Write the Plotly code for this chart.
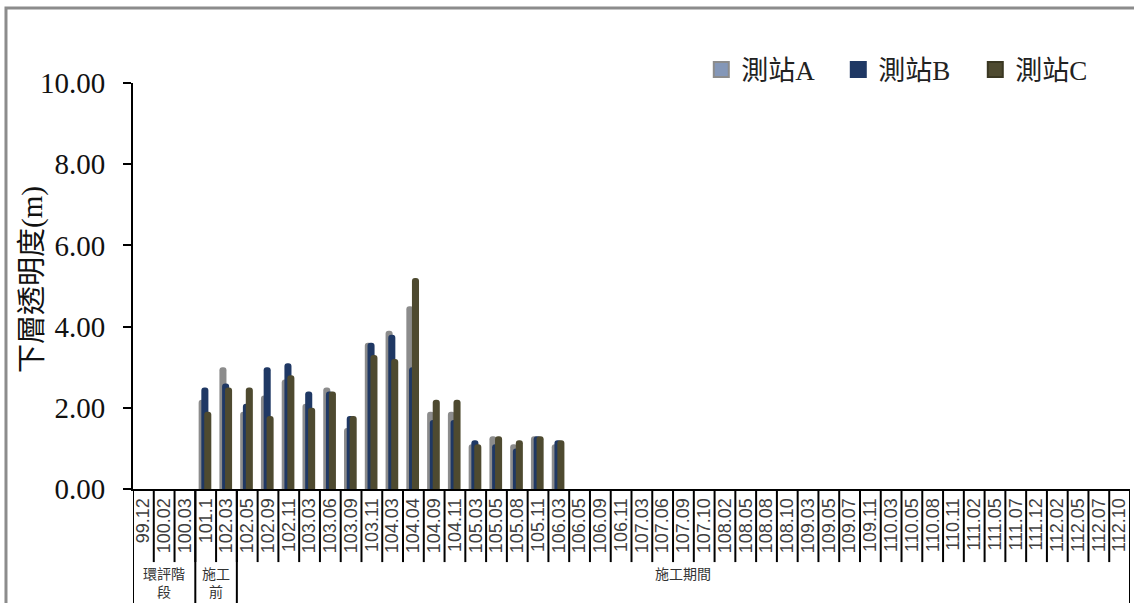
import plotly.graph_objects as go

categories = ["99.12", "100.02", "100.03", "101.1", "102.03", "102.05", "102.09", "102.11",
              "103.03", "103.06", "103.09", "103.11", "104.03", "104.04", "104.09", "104.11",
              "105.03", "105.05", "105.08", "105.11", "106.03", "106.05", "106.09", "106.11",
              "107.03", "107.06", "107.09", "107.10", "108.02", "108.05", "108.08", "108.10",
              "109.03", "109.05", "109.07", "109.11", "110.03", "110.05", "110.08", "110.11",
              "111.02", "111.05", "111.07", "111.12", "112.02", "112.05", "112.07", "112.10"]

n_empty = len(categories) - 21
station_a = [None, None, None, 2.2, 3.0, 1.9, 2.3, 2.7, 2.1, 2.5, 1.5, 3.6, 3.9, 4.5, 1.9, 1.9,
             1.1, 1.3, 1.1, 1.3, 1.1] + [None] * n_empty
station_b = [None, None, None, 2.5, 2.6, 2.1, 3.0, 3.1, 2.4, 2.4, 1.8, 3.6, 3.8, 3.0, 1.7, 1.7,
             1.2, 1.1, 1.0, 1.3, 1.2] + [None] * n_empty
station_c = [None, None, None, 1.9, 2.5, 2.5, 1.8, 2.8, 2.0, 2.4, 1.8, 3.3, 3.2, 5.2, 2.2, 2.2,
             1.1, 1.3, 1.2, 1.3, 1.2] + [None] * n_empty

series_names = ["測站A", "測站B", "測站C"]
series_colors = ["#8c8c8c", "#1f3864", "#4e4a30"]
legend_colors = ["#8497b8", "#1f3864", "#4e4a30"]
legend_lines = ["#8c8c8c", "#1f3864", "#3a3722"]
series_offsets = [-0.34, -0.21, -0.07]

group_labels = ["環評階<br>段", "施工<br>前", "施工期間"]
group_sizes = [3, 2, 43]

y_ticks = [0, 2, 4, 6, 8, 10]
y_title = "下層透明度(m)"

fig = go.Figure()
for name, vals, col, off in zip(series_names, [station_a, station_b, station_c],
                                series_colors, series_offsets):
    fig.add_trace(go.Bar(
        x=categories, y=vals, name=name, showlegend=False,
        marker=dict(color=col, line=dict(width=0), cornerradius="45%"),
        width=0.34, offset=off,
    ))
# legend entries with larger square keys
for name, col, lc in zip(series_names, legend_colors, legend_lines):
    fig.add_trace(go.Scatter(
        x=[categories[0]], y=[None], name=name, mode="markers",
        marker=dict(symbol="square", size=15, color=col, line=dict(color=lc, width=2)),
    ))

# boundaries between categories (tick dividers)
shapes = []
for i in range(len(categories) + 1):
    shapes.append(dict(type="line", xref="x", yref="paper",
                       x0=i - 0.5, x1=i - 0.5, y0=0, y1=-0.18,
                       line=dict(color="black", width=2)))
# group dividers
pos = -0.5
bounds = [pos]
for s in group_sizes:
    pos += s
    bounds.append(pos)
for b in bounds:
    shapes.append(dict(type="line", xref="x", yref="paper",
                       x0=b, x1=b, y0=0, y1=-0.35,
                       line=dict(color="black", width=2)))
# outer frame
shapes.append(dict(type="rect", xref="paper", yref="paper",
                   x0=-0.1274, x1=1.05, y0=-0.5, y1=1.1847,
                   line=dict(color="#8c8c8c", width=3), fillcolor="rgba(0,0,0,0)"))

annotations = []
for lab, b0, b1 in zip(group_labels, bounds[:-1], bounds[1:]):
    annotations.append(dict(x=(b0 + b1) / 2, y=-0.177, xref="x", yref="paper",
                            text=lab, showarrow=False, yanchor="top",
                            font=dict(family="Noto Sans CJK TC", size=14, color="#333")))
annotations.append(dict(x=-0.1003, y=0.515, xref="paper", yref="paper",
                        text=y_title, textangle=-90, showarrow=False,
                        xanchor="center", yanchor="middle",
                        font=dict(family="Liberation Serif, Noto Sans CJK TC", size=29, color="#111")))

fig.update_layout(
    width=1134, height=603,
    margin=dict(l=133, r=4, t=83, b=114),
    paper_bgcolor="white", plot_bgcolor="white",
    barmode="overlay",
    shapes=shapes, annotations=annotations,
    legend=dict(orientation="h", x=0.57, xanchor="left", y=1.032, yanchor="middle",
                font=dict(family="Liberation Serif, Noto Sans CJK TC", size=27, color="#222"),
                entrywidth=92, entrywidthmode="pixels",
                bgcolor="rgba(0,0,0,0)"),
    xaxis=dict(type="category", categoryorder="array", categoryarray=categories,
               tickmode="array", tickvals=categories, ticktext=categories,
               range=[-0.5, len(categories) - 0.5], automargin=False,
               showline=True, linecolor="black", linewidth=2,
               ticks="", tickangle=-90,
               tickfont=dict(family="Liberation Sans", size=18, color="#404040"),
               showgrid=False, zeroline=False),
    yaxis=dict(range=[0, 10], tickvals=y_ticks, tickformat=".2f", automargin=False,
               showline=True, linecolor="black", linewidth=2,
               ticks="outside", ticklen=8, tickwidth=2, tickcolor="black",
               ticklabelstandoff=12,
               tickfont=dict(family="Liberation Serif", size=29, color="#111"),
               showgrid=False, zeroline=False),
)

fig.write_html("out.html", config={"displayModeBar": False},
               post_script="document.body.style.margin='0px';")
